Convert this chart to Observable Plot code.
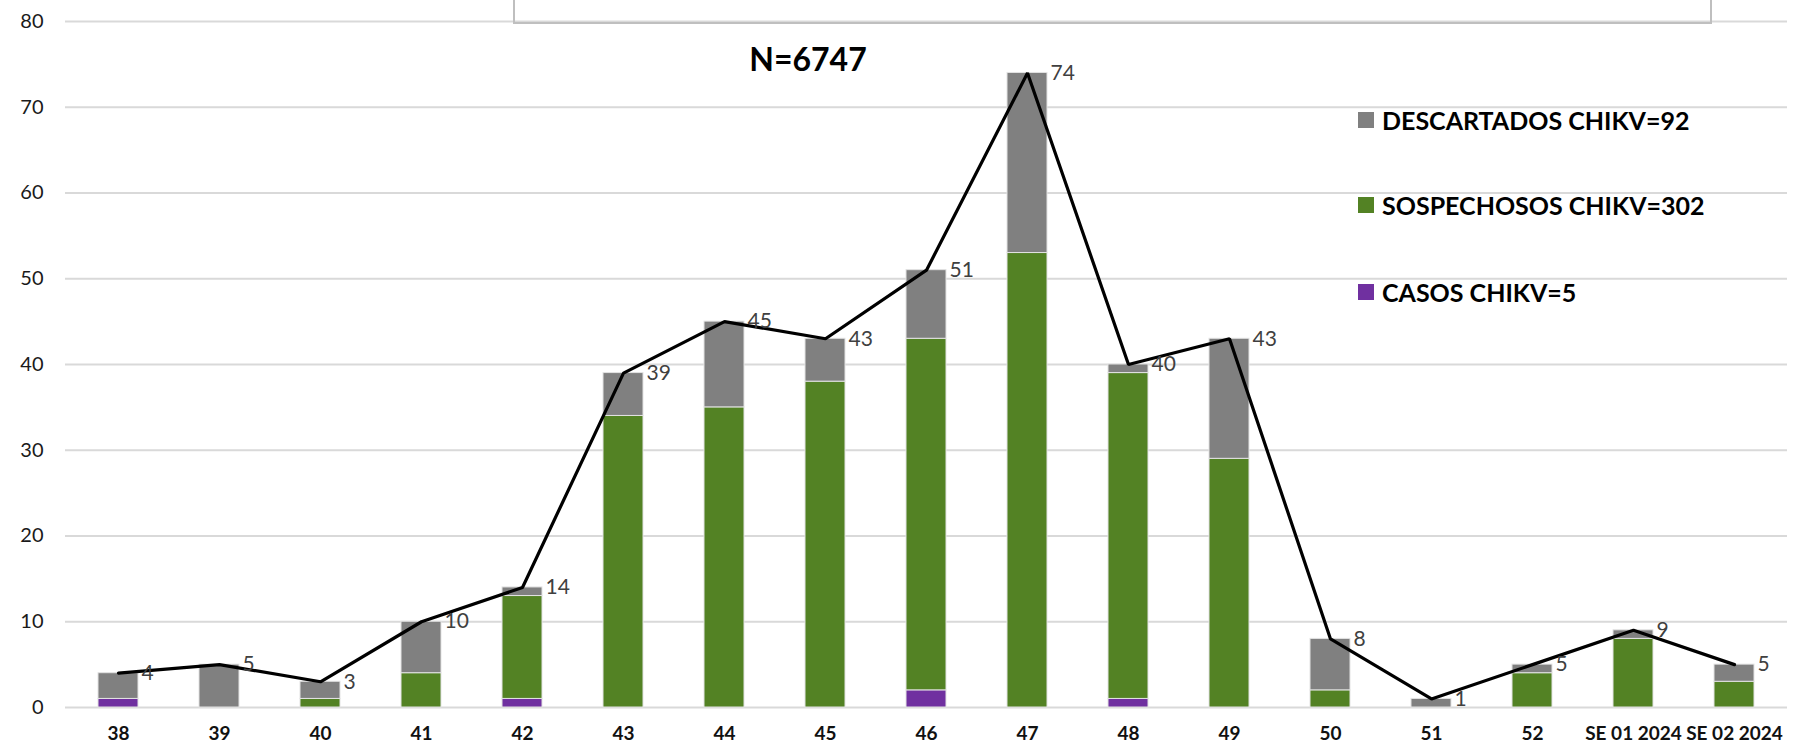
<!DOCTYPE html>
<html>
<head>
<meta charset="utf-8">
<script src="https://cdn.jsdelivr.net/npm/d3@7"></script>
<script src="https://cdn.jsdelivr.net/npm/@observablehq/plot@0.6"></script>
<style>
  html, body { margin: 0; padding: 0; background: #fff; }
  #wrap { position: relative; width: 1808px; height: 744px; overflow: hidden; font-family: Lato, "Open Sans", sans-serif; }
  #box { position: absolute; left: 513px; top: -10px; width: 1199px; height: 34px; box-sizing: border-box; border: 2px solid #bfbfbf; }
  #title { position: absolute; left: 608px; width: 400px; top: 43px; height: 36px; text-align: center; font-weight: 700; font-size: 32px; line-height: 32px; color: #000; }
  .leg { position: absolute; left: 1358px; display: flex; align-items: center; height: 30px; font-weight: 700; font-size: 25px; color: #000; white-space: nowrap; }
  .leg span.sw { display: inline-block; width: 16px; height: 16px; margin-right: 8px; }
</style>
</head>
<body>
<div id="wrap">
  <div id="chart"></div>
  <div id="box"></div>
  <div id="title"></div>
  <div id="legend"></div>
</div>
<script>
const weeks = ["38","39","40","41","42","43","44","45","46","47","48","49","50","51","52","SE 01 2024","SE 02 2024"];
const casos =       [1,0,0,0,1,0,0,0,2,0,1,0,0,0,0,0,0];
const sospechosos = [0,0,1,4,12,34,35,38,41,53,38,29,2,0,4,8,3];
const descartados = [3,5,2,6,1,5,10,5,8,21,1,14,6,1,1,1,2];
const totals =      [4,5,3,10,14,39,45,43,51,74,40,43,8,1,5,9,5];
const yTicks = [0,10,20,30,40,50,60,70,80];
const seriesNames = ["CASOS CHIKV", "SOSPECHOSOS CHIKV", "DESCARTADOS CHIKV"];
const seriesColors = ["#7030A0", "#538224", "#808080"];
const legendLabels = ["DESCARTADOS CHIKV=92", "SOSPECHOSOS CHIKV=302", "CASOS CHIKV=5"];
const legendColors = ["#808080", "#538224", "#7030A0"];
const titleText = "N=6747";

const seriesValues = [casos, sospechosos, descartados];
const rows = [];
weeks.forEach((w, i) => {
  seriesNames.forEach((s, j) => {
    if (seriesValues[j][i] > 0) rows.push({week: w, serie: s, value: seriesValues[j][i]});
  });
});
const totalRows = weeks.map((w, i) => ({week: w, total: totals[i]}));

const chart = Plot.plot({
  width: 1808,
  height: 744,
  marginLeft: 65,
  marginRight: 21,
  marginTop: 21,
  marginBottom: 37,
  style: {fontFamily: "Lato, 'Open Sans', sans-serif", background: "transparent", overflow: "visible"},
  x: {domain: weeks, paddingInner: 0.6, paddingOuter: 0.3, label: null, axis: null},
  y: {domain: [0, 80], label: null, axis: null},
  color: {domain: seriesNames, range: seriesColors},
  marks: [
    Plot.gridY(yTicks, {stroke: "#d9d9d9", strokeOpacity: 1, strokeWidth: 2}),
    Plot.axisY(yTicks, {tickSize: 0, tickPadding: 22, fontSize: 20, fill: "#1a1a1a", label: null}),
    Plot.axisX({tickSize: 0, tickPadding: 19, fontSize: 19, fontWeight: "bold", fill: "#111", label: null}),
    Plot.barY(rows, {x: "week", y: "value", fill: "serie", order: seriesNames, stroke: "#e3e3e3", strokeWidth: 1}),
    Plot.line(totalRows, {x: "week", y: "total", stroke: "black", strokeWidth: 3.2, strokeLinejoin: "miter"}),
    Plot.text(totalRows, {x: "week", y: "total", text: d => String(d.total), textAnchor: "start", dx: 23, fontSize: 21, fill: "#404040"})
  ]
});
document.getElementById("chart").appendChild(chart);

document.getElementById("title").textContent = titleText;
const legendTops = [119.5, 205, 292];
const legend = document.getElementById("legend");
legendLabels.forEach((lab, i) => {
  const d = document.createElement("div");
  d.className = "leg";
  d.style.top = (legendTops[i] - 15) + "px";
  const sw = document.createElement("span");
  sw.className = "sw";
  sw.style.background = legendColors[i];
  d.appendChild(sw);
  const t = document.createElement("span");
  t.textContent = lab;
  d.appendChild(t);
  legend.appendChild(d);
});
</script>
</body>
</html>
